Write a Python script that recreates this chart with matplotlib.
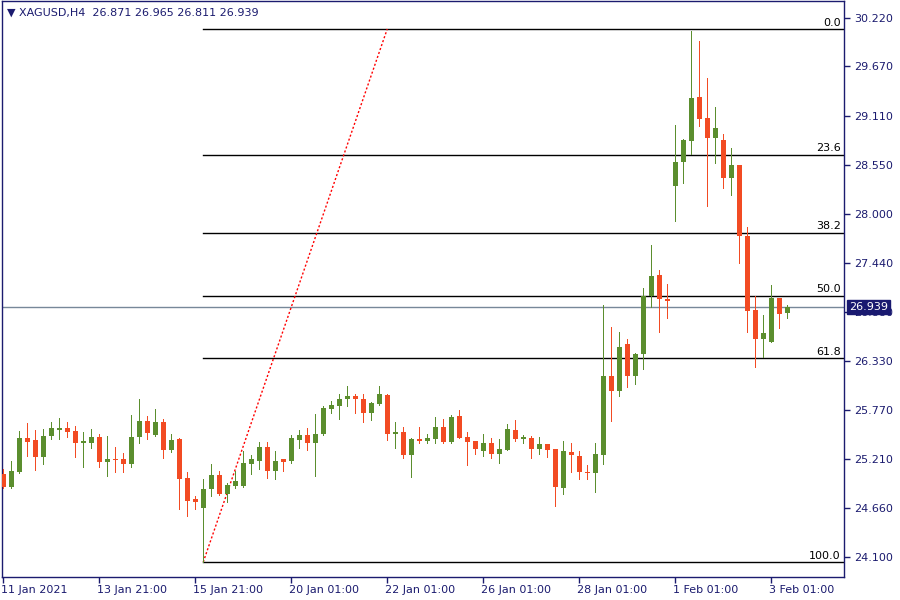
import numpy as np
import matplotlib
matplotlib.use("Agg")
import matplotlib.pyplot as plt
import matplotlib.transforms as mtransforms

######################################
# XAGUSD H4 candles
opens = [25.04, 24.90, 25.07, 25.45, 25.43, 25.23, 25.47, 25.54, 25.57, 25.53,
         25.40, 25.40, 25.46, 25.18, 25.21, 25.21, 25.16, 25.46, 25.64, 25.49,
         25.63, 25.31, 25.44, 25.00, 24.76, 24.66, 24.87, 25.03, 24.82, 24.91,
         24.91, 25.16, 25.19, 25.35, 25.08, 25.21, 25.19, 25.43, 25.49, 25.39,
         25.50, 25.78, 25.82, 25.89, 25.93, 25.89, 25.74, 25.84, 25.94, 25.50,
         25.52, 25.26, 25.44, 25.42, 25.44, 25.58, 25.41, 25.70, 25.46, 25.42,
         25.30, 25.39, 25.27, 25.32, 25.54, 25.44, 25.45, 25.33, 25.38, 25.33,
         24.88, 25.29, 25.25, 25.07, 25.05, 25.26, 26.16, 25.98, 26.52, 26.15,
         26.40, 27.06, 27.30, 27.03, 28.31, 28.58, 28.82, 29.32, 29.08, 28.86,
         28.83, 28.40, 28.55, 27.74, 26.90, 26.57, 26.54, 27.04, 26.871]
highs = [25.10, 25.19, 25.53, 25.62, 25.54, 25.55, 25.63, 25.68, 25.63, 25.59,
         25.52, 25.55, 25.50, 25.47, 25.35, 25.28, 25.71, 25.89, 25.70, 25.78,
         25.67, 25.50, 25.45, 25.07, 24.79, 24.99, 25.16, 25.08, 24.94, 25.08,
         25.30, 25.26, 25.41, 25.41, 25.30, 25.21, 25.49, 25.54, 25.56, 25.72,
         25.81, 25.87, 25.95, 26.04, 25.95, 25.95, 25.86, 26.04, 25.95, 25.63,
         25.58, 25.45, 25.58, 25.50, 25.69, 25.67, 25.71, 25.77, 25.52, 25.42,
         25.50, 25.45, 25.44, 25.61, 25.66, 25.49, 25.47, 25.46, 25.38, 25.33,
         25.42, 25.39, 25.30, 25.14, 25.40, 26.96, 26.71, 26.65, 26.58, 26.42,
         27.15, 27.64, 27.36, 27.20, 29.00, 28.85, 30.07, 29.96, 29.54, 29.21,
         28.90, 28.74, 28.55, 27.85, 27.06, 26.85, 27.19, 27.04, 26.965]
lows = [24.88, 24.88, 25.05, 25.25, 25.09, 25.16, 25.44, 25.44, 25.46, 25.24,
        25.12, 25.34, 25.12, 25.02, 25.06, 25.07, 25.12, 25.39, 25.44, 25.47,
        25.22, 25.29, 24.64, 24.57, 24.65, 24.04, 24.79, 24.80, 24.73, 24.88,
        24.89, 25.04, 25.10, 25.00, 24.99, 25.08, 25.17, 25.34, 25.32, 25.02,
        25.49, 25.73, 25.67, 25.82, 25.73, 25.63, 25.66, 25.83, 25.43, 25.34,
        25.22, 25.01, 25.39, 25.40, 25.39, 25.40, 25.39, 25.45, 25.15, 25.27,
        25.25, 25.22, 25.17, 25.31, 25.42, 25.39, 25.22, 25.27, 25.24, 24.68,
        24.82, 25.06, 24.99, 24.99, 24.84, 25.16, 25.64, 25.93, 26.03, 26.07,
        26.23, 26.94, 26.66, 26.81, 27.92, 28.35, 28.68, 28.99, 28.08, 28.57,
        28.29, 28.21, 27.44, 26.66, 26.26, 26.37, 26.54, 26.70, 26.811]
closes = [24.90, 25.08, 25.45, 25.41, 25.23, 25.47, 25.57, 25.57, 25.52, 25.40,
          25.41, 25.46, 25.18, 25.21, 25.20, 25.16, 25.46, 25.64, 25.51, 25.63,
          25.32, 25.43, 24.99, 24.74, 24.73, 24.87, 25.03, 24.82, 24.92, 24.96,
          25.17, 25.21, 25.35, 25.08, 25.19, 25.18, 25.45, 25.49, 25.39, 25.50,
          25.79, 25.83, 25.89, 25.93, 25.89, 25.74, 25.85, 25.95, 25.50, 25.52,
          25.26, 25.44, 25.42, 25.45, 25.58, 25.41, 25.69, 25.45, 25.41, 25.33,
          25.39, 25.27, 25.33, 25.55, 25.44, 25.46, 25.33, 25.38, 25.32, 24.89,
          25.30, 25.26, 25.06, 25.05, 25.27, 26.16, 25.98, 26.49, 26.15, 26.40,
          27.06, 27.29, 27.03, 27.01, 28.59, 28.83, 29.31, 29.07, 28.86, 28.97,
          28.40, 28.55, 27.75, 26.89, 26.57, 26.64, 27.04, 26.86, 26.939]

time_ticks  = [0, 12, 24, 36, 48, 60, 72, 84, 96]
time_labels = ["11 Jan 2021", "13 Jan 21:00", "15 Jan 21:00", "20 Jan 01:00",
               "22 Jan 01:00", "26 Jan 01:00", "28 Jan 01:00", "1 Feb 01:00",
               "3 Feb 01:00"]
price_ticks = [30.220, 29.670, 29.110, 28.550, 28.000, 27.440, 26.880,
               26.330, 25.770, 25.210, 24.660, 24.100]

fib_bar1, fib_low  = 25, 24.043
fib_bar2, fib_high = 48, 30.095
fib_ratios = [0.0, 23.6, 38.2, 50.0, 61.8, 100.0]
bid = 26.939
######################################
navy   = "#1b1b6f"
green  = "#5b8e2e"
red    = "#f24b23"
fsize  = 8
######################################

fig = plt.figure(figsize=(9, 6), dpi=100)
ax = fig.add_axes([2/900, 23/600, 842/900, 576/600])

o = np.array(opens); h = np.array(highs); l = np.array(lows); c = np.array(closes)
x = np.arange(len(o))
up = c >= o
cols = np.where(up, green, red)

ax.vlines(x, l, h, colors=cols, linewidth=0.72, antialiased=False, zorder=3)
bottom = np.minimum(o, c)
height = np.maximum(np.abs(c - o), 0.012)
ax.bar(x, height, bottom=bottom, width=0.62, color=cols, linewidth=0,
       antialiased=False, zorder=4)

# fibonacci retracement
rng = fib_high - fib_low
for r in fib_ratios:
    lvl = fib_high - r / 100.0 * rng
    ax.plot([fib_bar1, 200], [lvl, lvl], color="black", linewidth=1.0, zorder=2)
    ax.annotate("%.1f" % r, xy=(104.7, lvl), xytext=(0, 1), textcoords="offset points",
                ha="right", va="bottom", fontsize=fsize, color="black", zorder=5)
ax.plot([fib_bar1, fib_bar2], [fib_low, fib_high], color="red", linestyle=(0, (1.5, 1.5)),
        linewidth=1.0, zorder=2)

# bid line
ax.axhline(bid, color="#778899", linewidth=1.0, zorder=1)

ax.set_xlim(-0.16, 105.1)
ax.set_ylim(23.873, 30.413)

ax.yaxis.tick_right()
ax.set_yticks(price_ticks)
ax.set_yticklabels(["%.3f" % p for p in price_ticks])
ax.tick_params(axis="y", direction="out", length=4, width=1, color=navy,
               labelcolor=navy, labelsize=fsize, pad=3)
ax.set_xticks(time_ticks)
ax.set_xticklabels(time_labels, ha="left")
ax.tick_params(axis="x", direction="out", length=4, width=1, color=navy,
               labelcolor=navy, labelsize=fsize, pad=2)
for lab in ax.get_xticklabels():
    lab.set_transform(lab.get_transform() + mtransforms.ScaledTranslation(-2/100, 0, fig.dpi_scale_trans))
for sp in ax.spines.values():
    sp.set_color(navy)
    sp.set_linewidth(1.0)

trans = mtransforms.blended_transform_factory(ax.transAxes, ax.transData)
ax.text(1.006, bid, "%.3f" % bid, transform=trans, ha="left", va="center",
        fontsize=fsize, color="white", zorder=10, clip_on=False,
        bbox=dict(boxstyle="square,pad=0.2", facecolor="#191970", edgecolor="#191970"))

fig.text(7/900, 1 - 13/600, "\u25BC XAGUSD,H4  %.3f %.3f %.3f %.3f" % (opens[-1], highs[-1], lows[-1], closes[-1]),
         ha="left", va="center", fontsize=fsize, color=navy)

fig.savefig("out.png", dpi=100, facecolor="white")
